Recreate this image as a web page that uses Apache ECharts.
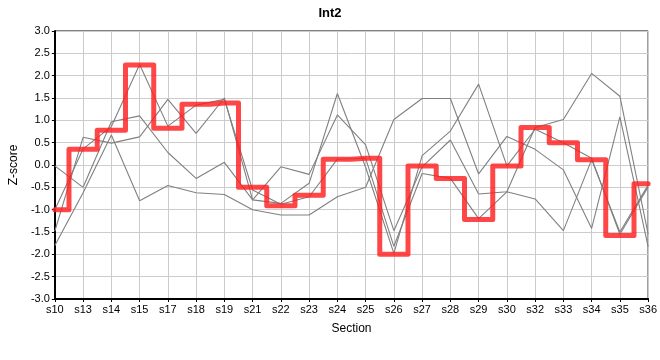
<!DOCTYPE html>
<html>
<head>
<meta charset="utf-8">
<script src="https://cdn.jsdelivr.net/npm/echarts@6/dist/echarts.min.js"></script>
<style>html,body{margin:0;padding:0;background:#fff}#c{width:660px;height:360px}</style>
</head>
<body>
<div id="c"></div>
<script>
const categories = ['s10','s13','s14','s15','s17','s18','s19','s21','s22','s23','s24','s25','s26','s27','s28','s29','s30','s32','s33','s34','s35','s36'];
const yTicks = [-3.0,-2.5,-2.0,-1.5,-1.0,-0.5,0.0,0.5,1.0,1.5,2.0,2.5,3.0];
const int2 = [-1.00,0.35,0.78,2.24,0.82,1.36,1.39,-0.50,-0.91,-0.68,0.13,0.15,-2.00,-0.02,-0.30,-1.22,-0.02,0.84,0.50,0.12,-1.58,-0.42];
const gray1 = [-1.80,-0.62,0.67,-0.80,-0.46,-0.62,-0.66,-1.00,-1.12,-1.12,-0.71,-0.50,1.02,1.49,1.49,-0.20,0.64,0.35,-0.11,-1.42,1.08,-1.83];
const gray2 = [-0.02,-0.50,0.97,1.10,0.28,-0.30,0.06,-0.78,-0.04,-0.21,1.12,0.45,-1.47,-0.04,0.56,-0.65,-0.60,0.84,1.02,2.05,1.54,-1.55];
const gray3 = [-1.48,0.62,0.49,0.63,1.47,0.71,1.50,-0.78,-0.86,-0.41,1.60,-0.05,-1.98,0.21,0.76,1.81,-0.02,0.80,0.50,0.15,-1.55,-0.49];
const gray4 = [-1.00,0.36,0.86,2.25,0.87,1.34,1.47,-0.56,-0.88,-0.71,0.13,0.15,-1.82,-0.19,-0.30,-1.20,-0.60,-0.76,-1.47,0.12,-1.50,-0.45];

const font = 'Liberation Sans, Arial, sans-serif';
const grayLine = (d) => ({
  type: 'line', data: d, showSymbol: false, silent: true,
  lineStyle: {color: '#808080', width: 1.1}, z: 2
});

const chart = echarts.init(document.getElementById('c'), null, {renderer: 'canvas'});
chart.setOption({
  animation: false,
  backgroundColor: '#fff',
  title: {
    text: 'Int2', left: 'center', top: 2,
    textStyle: {fontFamily: font, fontSize: 13, fontWeight: 'bold', color: '#000'}
  },
  grid: {left: 50, right: 10, top: 31, bottom: 61, show: true, borderColor: '#000', borderWidth: 1, backgroundColor: 'transparent'},
  xAxis: {
    type: 'category', data: categories, boundaryGap: false,
    name: 'Section', nameLocation: 'middle', nameGap: 24,
    nameTextStyle: {fontFamily: font, fontSize: 12, color: '#000'},
    axisLine: {onZero: false, lineStyle: {color: '#000', width: 2}},
    axisTick: {show: true, length: 3, lineStyle: {color: '#000'}, alignWithLabel: true},
    axisLabel: {fontFamily: font, fontSize: 11, color: '#000', margin: 5, interval: 0},
    splitLine: {show: true, lineStyle: {color: '#cccccc', width: 1}}
  },
  yAxis: {
    type: 'value', min: yTicks[0], max: yTicks[yTicks.length-1], interval: 0.5,
    name: 'Z-score', nameLocation: 'middle', nameGap: 32, nameRotate: 90,
    nameTextStyle: {fontFamily: font, fontSize: 12, color: '#000'},
    axisLine: {show: true, onZero: false, lineStyle: {color: '#000', width: 2}},
    axisTick: {show: true, length: 3, lineStyle: {color: '#000'}},
    axisLabel: {fontFamily: font, fontSize: 11, color: '#000', margin: 5, formatter: v => v.toFixed(1)},
    splitLine: {show: true, lineStyle: {color: '#cccccc', width: 1}}
  },
  series: [
    grayLine(gray1), grayLine(gray2), grayLine(gray3), grayLine(gray4),
    {
      type: 'line', data: int2, step: 'middle', showSymbol: false, z: 5,
      lineStyle: {color: 'rgba(255,30,30,0.82)', width: 5, join: 'round', cap: 'round'}
    }
  ]
});
</script>
</body>
</html>
